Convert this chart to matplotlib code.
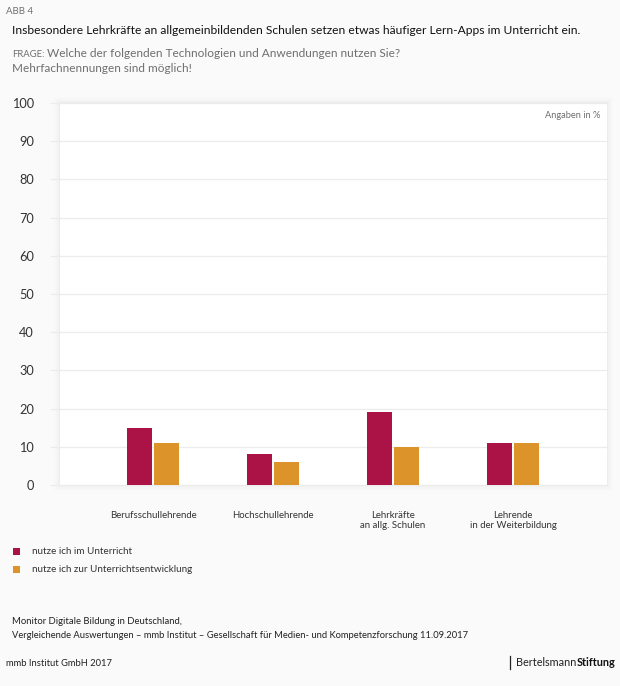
"""Balkendiagramm ABB 4: Nutzung von Lern-Apps nach Lehrendengruppe."""

import matplotlib

matplotlib.use("Agg")
import matplotlib.pyplot as plt
import numpy as np
from matplotlib.patches import Rectangle

categories = ["Berufsschullehrende", "Hochschullehrende", "Lehrkräfte\nan allg. Schulen", "Lehrende\nin der Weiterbildung"]
unterricht = [15, 8, 19, 11]
entwicklung = [11, 6, 10, 11]
yticks = [0, 10, 20, 30, 40, 50, 60, 70, 80, 90, 100]
legend_labels = ["nutze ich im Unterricht", "nutze ich zur Unterrichtsentwicklung"]

W, H = 620, 686
BG = "#fafafa"
RED = "#ab1246"
ORANGE = "#db932a"
DARK = "#222222"
GREY = "#6f6f6f"

plt.rcParams["font.family"] = ["Lato", "DejaVu Sans"]

fig = plt.figure(figsize=(W / 100, H / 100), dpi=100, facecolor=BG)


def ftext(x, y, s, **kw):
    # Positionen in Pixeln, Ursprung oben links
    kw.setdefault("va", "center")
    kw.setdefault("color", DARK)
    return fig.text(x / W, 1 - y / H, s, **kw)


# weicher Schatten um die Zeichenflaeche
for grow, alpha in [(6, 0.008), (4, 0.010), (2, 0.014), (1, 0.018)]:
    fig.add_artist(Rectangle(((60 - grow) / W, 1 - (485 + grow) / H), (547 + 2 * grow) / W, (382 + 2 * grow) / H,
                             transform=fig.transFigure, facecolor="black", edgecolor="none", alpha=alpha, zorder=-1))

ax = fig.add_axes([60 / W, 1 - 485 / H, 547 / W, 382 / H])
ax.set_facecolor("white")
ax.set_xlim(-93 / 120, 454 / 120)
ax.set_ylim(0, 100)

x = np.arange(len(categories))
bar_w = 25 / 120
off = 13.5 / 120
ax.bar(x - off, unterricht, bar_w, color=RED, zorder=3)
ax.bar(x + off, entwicklung, bar_w, color=ORANGE, zorder=3)

for side in ax.spines:
    ax.spines[side].set_visible(False)
ax.set_axisbelow(True)
ax.yaxis.grid(True, color="#ececec", linewidth=0.9)
ax.xaxis.grid(False)
ax.set_yticks(yticks)
ax.set_yticklabels([str(t) for t in yticks], fontsize=9.2, color="#333333", ha="right")
ax.tick_params(axis="y", length=7.2, width=0.9, color="#ececec", pad=11.5)
ax.set_xticks(x)
ax.set_xticklabels(categories, fontsize=6.9, color="#333333", linespacing=1.2, va="top")
ax.tick_params(axis="x", length=0, pad=18.4)

ftext(600, 115, "Angaben in %", ha="right", fontsize=6.7, color=GREY)

ftext(6, 12, "ABB 4", fontsize=6.9, color=GREY)
ftext(12, 30, "Insbesondere Lehrkräfte an allgemeinbildenden Schulen setzen etwas häufiger Lern-Apps im Unterricht ein.",
      fontsize=8.65, color="#111111")
ftext(12, 57, "FRAGE:", fontsize=6.8, color=GREY, va="baseline")
ftext(47, 57, "Welche der folgenden Technologien und Anwendungen nutzen Sie?", fontsize=8.6, color=GREY, va="baseline")
ftext(12, 68, "Mehrfachnennungen sind möglich!", fontsize=8.5, color=GREY)

for y, color, label in zip([551, 569], [RED, ORANGE], legend_labels):
    fig.add_artist(Rectangle((13 / W, 1 - (y + 3.5) / H), 7 / W, 7 / H, transform=fig.transFigure,
                             facecolor=color, edgecolor="none"))
    ftext(32, y, label, fontsize=7.1, color="#333333")

ftext(12, 622, "Monitor Digitale Bildung in Deutschland,", fontsize=6.8)
ftext(12, 636, "Vergleichende Auswertungen – mmb Institut – Gesellschaft für Medien- und Kompetenzforschung 11.09.2017",
      fontsize=6.75)
ftext(6, 662, "mmb Institut GmbH 2017", fontsize=6.75, va="center_baseline")

fig.add_artist(plt.Line2D([510 / W, 510 / W], [1 - 669 / H, 1 - 656 / H], color="#222222", linewidth=0.9))
name = ftext(516, 662, "Bertelsmann", fontsize=7.85, color="#222222", va="center_baseline")
fig.canvas.draw()
bb = name.get_window_extent()
ftext(bb.x1, 662, "Stiftung", fontsize=7.85, color="#111111", fontweight="bold", va="center_baseline")

fig.savefig("out.png", dpi=100, facecolor=BG)
